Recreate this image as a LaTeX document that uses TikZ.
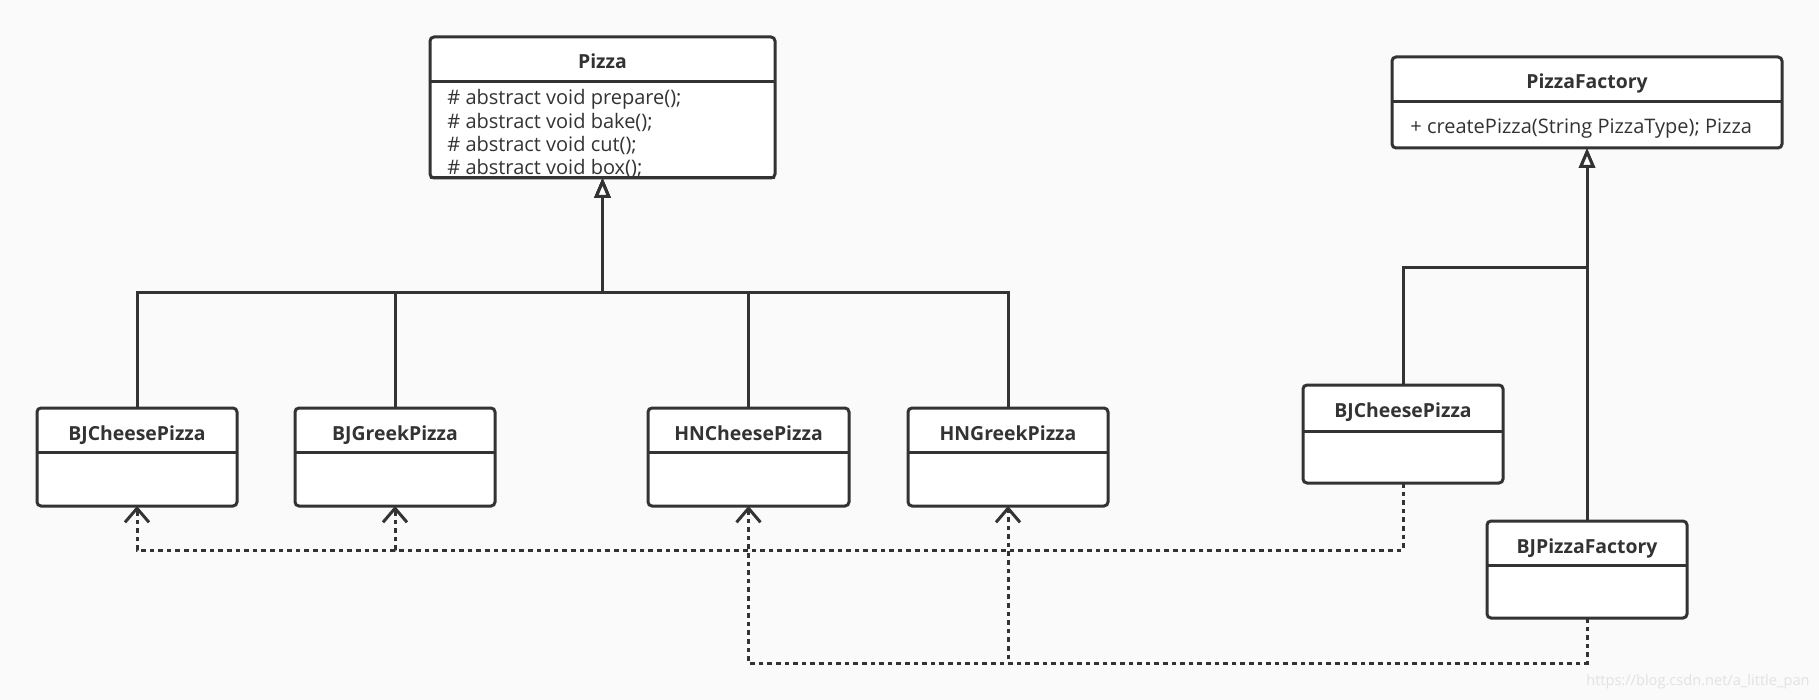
\documentclass[tikz,border=0pt]{standalone}
\usepackage{fontspec}
\setmainfont{Open Sans}
\usetikzlibrary{arrows.meta}
\definecolor{bg}{HTML}{FAFAFA}
\definecolor{ink}{HTML}{333333}
\definecolor{wm}{HTML}{E2E2E2}
\tikzset{
  umlb/.style={draw=ink, fill=white, line width=1.5pt, rounded corners=2pt, inner sep=0pt, outer sep=0pt},
  divline/.style={draw=ink, line width=1.5pt},
  ttl/.style={font=\fontsize{9.7}{11}\selectfont\bfseries, text=ink, inner sep=0pt, anchor=base},
  body/.style={font=\fontsize{10}{12}\selectfont, text=ink, inner sep=0pt, anchor=base west},
  gen/.style={draw=ink, line width=1.5pt, -{Triangle[open, length=10pt, width=8pt, fill=white, line width=1.5pt]}},
  dep/.style={draw=ink, line width=1.5pt, dash pattern=on 2.3pt off 2pt, -{Straight Barb[length=7pt, width=12pt, line width=1.5pt]}},
}
\newcommand\umlbox[7]{%
  \pgfmathsetmacro\bw{(#4-#2)*0.5}\pgfmathsetmacro\bh{(#5-#3)*0.5}%
  \pgfmathsetmacro\cx{(#2+#4)/2}\pgfmathsetmacro\cy{(#3+#5)/2}\pgfmathsetmacro\ty{#3+32}%
  \node[umlb, minimum width=\bw pt, minimum height=\bh pt] (#1) at (\cx,\cy) {};
  \draw[divline] (#2,#6) -- (#4,#6);
  \node[ttl] (#1-t) at (\cx,\ty) {#7};
}
\begin{document}
\begin{tikzpicture}[x=0.5pt,y=-0.5pt]
\fill[bg] (0,0) rectangle (1819,700);
\useasboundingbox (0,0) rectangle (1819,700);
% classes
\umlbox{pizza}{430}{37}{775}{178}{82}{Pizza}
\node[body] (pm1) at (447,105) {\# abstract void prepare();};
\node[body] (pm2) at (447,128.3) {\# abstract void bake();};
\node[body] (pm3) at (447,151.6) {\# abstract void cut();};
\node[body] (pm4) at (447,175) {\# abstract void box();};
\draw[divline] (430,178) -- (775,178);
\umlbox{c1}{37}{408}{237}{506}{452}{BJCheesePizza}
\umlbox{c2}{295}{408}{495}{506}{452}{BJGreekPizza}
\umlbox{c3}{648}{408}{849}{506}{452}{HNCheesePizza}
\umlbox{c4}{908}{408}{1108}{506}{452}{HNGreekPizza}
\umlbox{pf}{1392}{57}{1782}{148}{102}{PizzaFactory}
\node[body] (pf-m) at (1410,134) {+ createPizza(String PizzaType); Pizza};
\umlbox{rc}{1303}{385}{1503}{483}{431}{BJCheesePizza}
\umlbox{bf}{1487}{521}{1687}{618}{565}{BJPizzaFactory}
% generalization to Pizza
\coordinate (pbar) at (602.5,292);
\foreach \n in {c1,c2,c3,c4}{
  \draw[gen] (\n.north) |- (pbar) -- (pizza.south);
}
% generalization to PizzaFactory
\coordinate (fbar) at (1587,267);
\draw[gen] (rc.north) |- (fbar) -- (pf.south);
\draw[gen] (bf.north) -- (pf.south);
% dependencies from BJCheesePizza (right)
\coordinate (d1) at (1403,550);
\draw[dep] (rc.south) -- (d1) -| (c1.south);
\draw[dep] (rc.south) -- (d1) -| (c2.south);
% dependencies from BJPizzaFactory
\coordinate (d2) at (1587,663);
\draw[dep] (bf.south) -- (d2) -| (c3.south);
\draw[dep] (bf.south) -- (d2) -| (c4.south);
% watermark
\node[font=\fontsize{7.3}{8}\selectfont, text=wm, inner sep=0pt, anchor=east] (wmk) at (1810,682) {https://blog.csdn.net/a\_little\_pan};
\end{tikzpicture}
\end{document}
